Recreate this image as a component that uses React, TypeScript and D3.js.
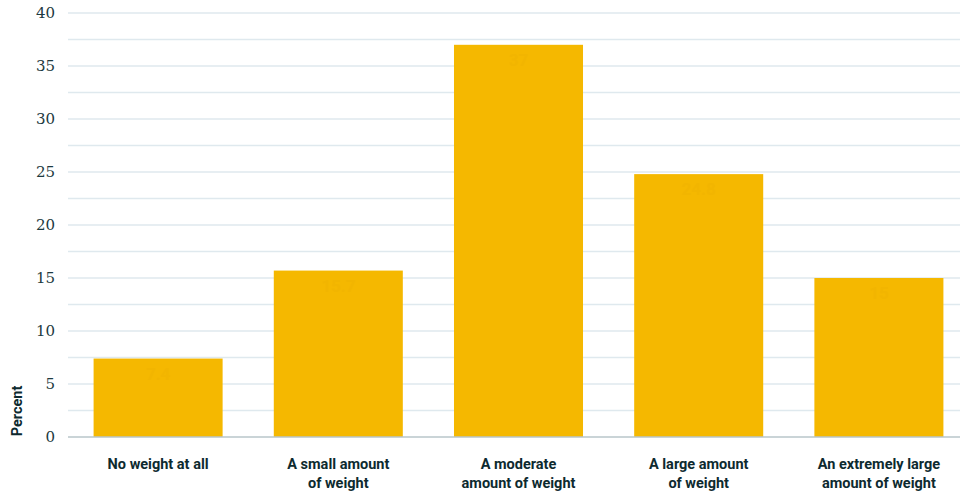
import React from "react";
import * as d3 from "d3";

const categories: string[][] = [
  ["No weight at all"],
  ["A small amount", "of weight"],
  ["A moderate", "amount of weight"],
  ["A large amount", "of weight"],
  ["An extremely large", "amount of weight"],
];
const values: number[] = [7.4, 15.7, 37, 24.8, 15];
const yTicks: number[] = [0, 5, 10, 15, 20, 25, 30, 35, 40];
const gridValues: number[] = d3.range(0, 40.01, 2.5);
const yTitle = "Percent";

const W = 960;
const H = 493;

export default function App() {
  const x = d3
    .scaleBand<number>()
    .domain(values.map((_, i) => i))
    .range([68, 969])
    .paddingInner(0.284)
    .paddingOuter(0.142);
  const y = d3.scaleLinear().domain([0, 40]).range([437, 13]);

  return (
    <svg
      width={W}
      height={H}
      style={{ position: "absolute", left: 0, top: 0, display: "block" }}
    >
      <rect width={W} height={H} fill="#ffffff" />
      {gridValues.map((g) =>
        g === 0 ? null : (
          <line
            key={g}
            x1={68}
            x2={W}
            y1={y(g)}
            y2={y(g)}
            stroke="#dfe9ee"
            strokeWidth={1.5}
          />
        )
      )}
      {yTicks.map((t) => (
        <text
          key={t}
          x={55}
          y={y(t)}
          dy="0.35em"
          textAnchor="end"
          fontFamily="'DejaVu Serif', serif"
          fontSize={15}
          fill="#1d3a40"
        >
          {t}
        </text>
      ))}
      {values.map((v, i) => (
        <g key={i}>
          <rect
            x={x(i)!}
            y={y(v)}
            width={x.bandwidth()}
            height={y(0) - y(v)}
            fill="#f5b800"
          />
          <text
            x={x(i)! + x.bandwidth() / 2}
            y={y(v) + 21}
            textAnchor="middle"
            fontFamily="Roboto, sans-serif"
            fontWeight={700}
            fontSize={17}
            fill="#f2b500"
          >
            {v}
          </text>
        </g>
      ))}
      <line x1={68} x2={W} y1={y(0)} y2={y(0)} stroke="#b9c6ca" strokeWidth={1.5} />
      {categories.map((lines, i) => (
        <text
          key={i}
          x={x(i)! + x.bandwidth() / 2}
          y={469}
          textAnchor="middle"
          fontFamily="Roboto, sans-serif"
          fontWeight={700}
          fontSize={14.5}
          fill="#0d2a2f"
        >
          {lines.map((l, j) => (
            <tspan key={j} x={x(i)! + x.bandwidth() / 2} dy={j === 0 ? 0 : 19}>
              {l}
            </tspan>
          ))}
        </text>
      ))}
      <text
        transform={`translate(22,411) rotate(-90)`}
        textAnchor="middle"
        fontFamily="Roboto, sans-serif"
        fontWeight={700}
        fontSize={14.5}
        fill="#0d2a2f"
      >
        {yTitle}
      </text>
    </svg>
  );
}
